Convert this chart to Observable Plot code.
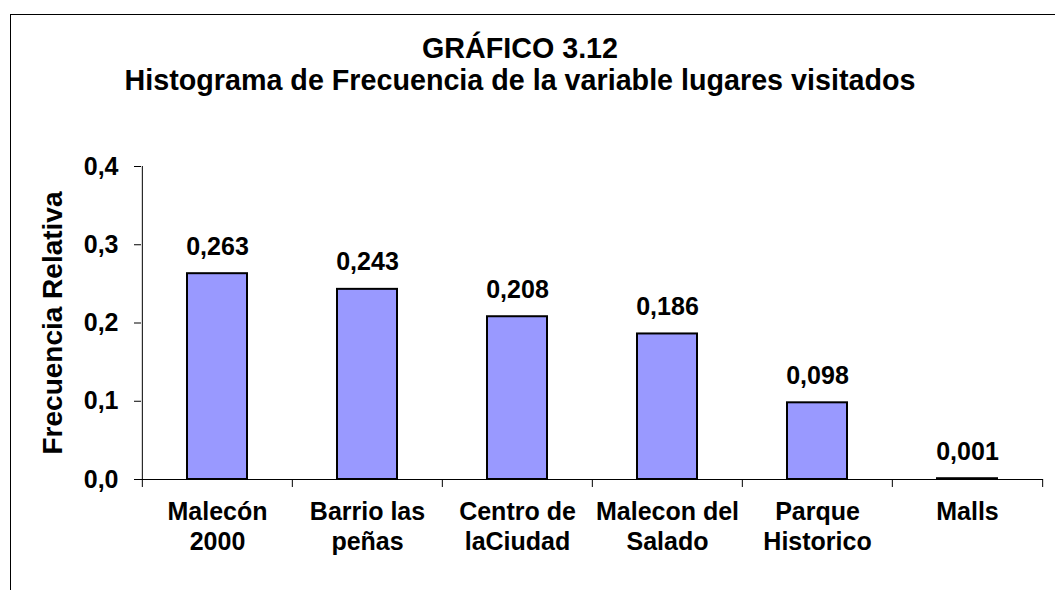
<!DOCTYPE html>
<html><head><meta charset="utf-8">
<script src="https://cdn.jsdelivr.net/npm/d3@7"></script>
<script src="https://cdn.jsdelivr.net/npm/@observablehq/plot@0.6"></script>
<style>
body{margin:0;background:#fff;}
#wrap{position:relative;width:1055px;height:590px;overflow:hidden;font-family:"Liberation Sans",Arial,sans-serif;color:#000;}
#frame{position:absolute;left:10px;top:14px;width:1100px;height:700px;border:1px solid #000;box-sizing:border-box;}
#title{position:relative;width:1040px;height:100px;box-sizing:border-box;padding-top:32px;text-align:center;font-weight:bold;font-size:28.7px;line-height:32px;}
#chart svg{display:block;}
</style></head>
<body>
<div id="wrap">
  <div id="frame"></div>
  <div id="title"><div>GRÁFICO 3.12</div><div>Histograma de Frecuencia de la variable lugares visitados</div></div>
  <div id="chart"></div>
</div>
<script>
const categories = ["Malecón 2000", "Barrio las peñas", "Centro de laCiudad", "Malecon del Salado", "Parque Historico", "Malls"];
const tickLabels = ["Malecón\n2000", "Barrio las\npeñas", "Centro de\nlaCiudad", "Malecon del\nSalado", "Parque\nHistorico", "Malls"];
const values = [0.263, 0.243, 0.208, 0.186, 0.098, 0.001];
const yTicks = [0, 0.1, 0.2, 0.3, 0.4];
const yLabel = "Frecuencia Relativa";

const data = categories.map((c, i) => ({cat: c, label: tickLabels[i], value: values[i]}));

const W = 1055, H = 490, mL = 141, mR = 12, mT = 66, mB = 111;
const step = (W - mL - mR) / categories.length;
const font = '"Liberation Sans", Arial, sans-serif';
const comma = (v, n) => v.toFixed(n).replace(".", ",");

const chart = Plot.plot({
  width: W, height: H,
  marginLeft: mL, marginRight: mR, marginTop: mT, marginBottom: mB,
  style: {fontFamily: font, background: "#fff", color: "#000"},
  x: {domain: categories, paddingInner: 0.6, paddingOuter: 0.3, axis: null},
  y: {domain: [0, 0.4], axis: null},
  marks: [
    Plot.axisY({ticks: yTicks, tickFormat: d => comma(d, 1), tickSize: 7, tickPadding: 16,
      fontSize: 25, fontWeight: "bold", label: null, stroke: "#000"}),
    Plot.ruleY([0], {stroke: "#000"}),
    Plot.ruleX([categories[0]], {x: d => d, dx: -step / 2, insetBottom: -8, stroke: "#000"}),
    Plot.ruleX(categories.slice(1), {x: d => d, y1: 0, y2: 0, dx: -step / 2, insetBottom: -8, stroke: "#000"}),
    Plot.ruleX(categories.slice(-1), {x: d => d, y1: 0, y2: 0, dx: step / 2, insetBottom: -8, stroke: "#000"}),
    Plot.barY(data, {x: "cat", y: "value", fill: "#9999ff", stroke: "#000", strokeWidth: 2}),
    Plot.text(data, {x: "cat", y: "value", text: d => comma(d.value, 3), lineAnchor: "bottom", dy: -19,
      fontSize: 25, fontWeight: "bold", fill: "#000"}),
    Plot.text(data, {x: "cat", y: () => 0, text: "label", lineAnchor: "top", dy: 19, lineHeight: 1.2,
      fontSize: 25, fontWeight: "bold", fill: "#000"}),
    Plot.text([yLabel], {frameAnchor: "left", textAnchor: "middle", rotate: -90, dx: -88,
      fontSize: 28, fontWeight: "bold", fill: "#000"})
  ]
});
document.getElementById("chart").appendChild(chart);
</script>
</body></html>
